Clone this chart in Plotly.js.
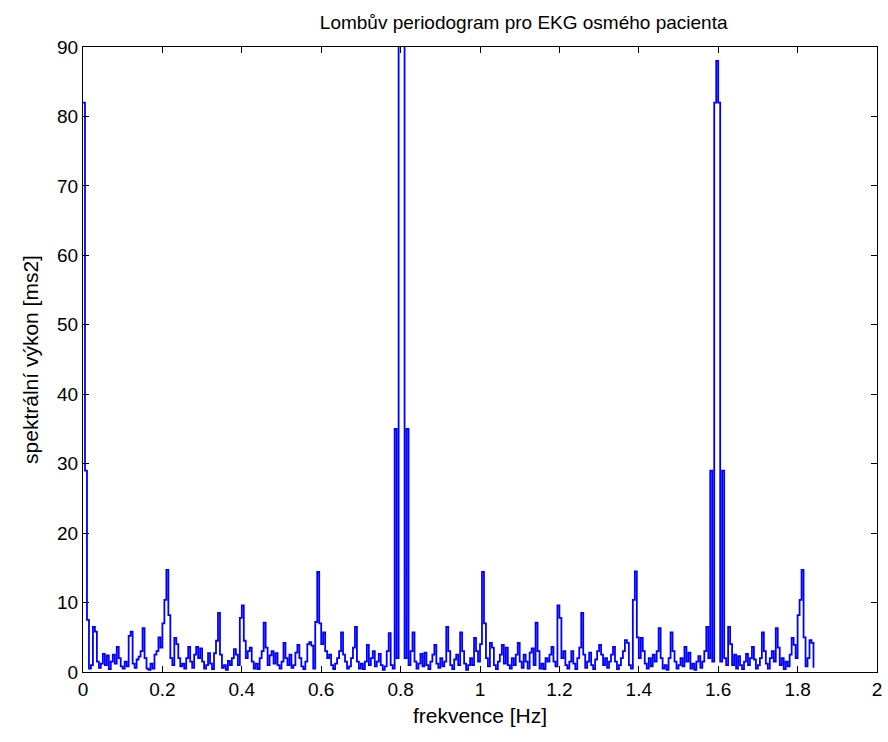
<!DOCTYPE html>
<html>
<head>
<meta charset="utf-8">
<script src="https://cdn.plot.ly/plotly-3.0.1.min.js"></script>
<style>
  html, body { margin: 0; padding: 0; background: #ffffff; }
  #chart { width: 888px; height: 742px; }
</style>
</head>
<body>
<div id="chart"></div>
<script>
// Frequency grid step [Hz] and spectral power [ms2] (rows of 0.1 Hz)
const freqStep = 0.005;
const power = [
  // 0.00 - 0.095
  82, 29, 7.5, 0.5, 1, 6.5, 5.8, 1.5, 0.6, 1.2, 2.6, 1.0, 2.4, 0.4, 1.5, 2.5, 1.2, 3.6, 2.0, 0.8,
  // 0.10 - 0.195
  0.5, 1.5, 0.8, 5.2, 5.8, 1.2, 0.6, 1.8, 2.2, 3.0, 6.3, 2.0, 0.5, 0.3, 1.2, 0.5, 2.5, 3.0, 5.0, 3.5,
  // 0.20 - 0.295
  7.0, 10.4, 14.7, 8.2, 2.0, 1.0, 4.9, 4.0, 2.0, 0.8, 1.2, 0.5, 2.0, 3.6, 1.5, 0.6, 2.5, 3.6, 2.0, 3.4,
  // 0.30 - 0.395
  1.5, 0.5, 1.0, 2.7, 1.2, 0.4, 2.7, 4.5, 8.5, 2.5, 0.6, 1.0, 0.3, 1.6, 1.0, 2.0, 3.3, 2.5, 1.0, 7.8,
  // 0.40 - 0.495
  9.6, 4.5, 2.0, 3.0, 3.5, 1.5, 0.5, 1.2, 0.4, 2.0, 3.0, 7.1, 3.5, 1.0, 2.4, 3.0, 1.2, 2.7, 1.0, 0.5,
  // 0.50 - 0.595
  1.5, 4.2, 2.0, 1.0, 2.5, 0.6, 1.0, 2.8, 3.9, 2.0, 0.8, 0.4, 1.5, 4.0, 4.3, 3.8, 0.5, 7.2, 14.4, 7.0,
  // 0.60 - 0.695
  4.0, 5.7, 3.0, 2.0, 2.5, 1.0, 0.4, 1.2, 2.0, 3.0, 5.7, 2.5, 1.5, 0.5, 0.8, 2.0, 3.5, 6.5, 1.5, 0.5,
  // 0.70 - 0.795
  1.2, 0.4, 1.5, 3.9, 1.0, 2.0, 3.0, 0.8, 1.5, 2.6, 1.0, 0.3, 0.8, 3.0, 5.6, 1.0, 0.5, 35, 2.0, 300,
  // 0.80 - 0.895
  400, 250, 2.0, 35, 1.0, 3.0, 5.7, 1.5, 0.5, 1.2, 2.6, 0.8, 2.8, 1.0, 0.4, 1.5, 2.5, 3.9, 1.2, 0.6,
  // 0.90 - 0.995
  2.0, 0.8, 1.5, 6.5, 3.0, 1.0, 0.4, 1.8, 2.5, 1.0, 5.7, 3.0, 1.2, 0.3, 1.0, 2.0, 1.0, 4.9, 3.0, 1.5,
  // 1.00 - 1.095
  4.0, 14.4, 7.0, 2.0, 0.8, 4.2, 3.5, 1.0, 0.4, 1.5, 2.5, 3.9, 1.2, 3.5, 1.0, 0.5, 2.0, 1.0, 2.5, 4.2,
  // 1.10 - 1.195
  1.5, 0.6, 2.5, 1.5, 0.5, 2.8, 3.4, 1.0, 7.1, 3.0, 0.5, 1.2, 0.4, 2.0, 1.5, 2.5, 3.6, 1.5, 0.8, 9.6,
  // 1.20 - 1.295
  7.8, 2.0, 3.0, 1.0, 0.5, 1.5, 3.0, 1.2, 0.4, 2.0, 3.5, 8.5, 2.5, 0.6, 1.5, 2.8, 1.0, 0.4, 1.8, 3.0,
  // 1.30 - 1.395
  3.9, 2.5, 1.0, 2.0, 0.6, 1.5, 2.5, 3.6, 1.5, 0.4, 1.0, 2.0, 3.0, 4.6, 4.2, 1.0, 0.5, 10.4, 14.5, 5.0,
  // 1.40 - 1.495
  2.0, 4.9, 3.0, 1.2, 0.5, 2.0, 0.8, 2.5, 1.5, 3.0, 6.3, 2.0, 0.5, 1.0, 0.3, 2.0, 5.7, 3.0, 1.5, 0.5,
  // 1.50 - 1.595
  1.0, 2.0, 0.8, 3.6, 1.5, 2.8, 0.5, 1.2, 0.3, 1.5, 2.3, 0.6, 1.5, 3.0, 6.5, 2.0, 29, 1.5, 82, 88,
  // 1.60 - 1.695
  82, 1.5, 29, 2.0, 1.0, 6.5, 4.0, 1.0, 2.5, 0.5, 2.3, 1.0, 0.4, 1.5, 2.6, 1.0, 2.0, 3.6, 1.8, 0.5,
  // 1.70 - 1.795
  1.0, 2.0, 5.7, 3.0, 1.2, 0.5, 2.0, 3.0, 1.5, 6.3, 3.5, 1.0, 2.0, 0.4, 1.5, 0.8, 2.5, 4.9, 3.9, 2.0,
  // 1.80 - 1.84
  8.2, 10.4, 14.7, 5.0, 0.8, 2.0, 4.6, 4.2, 0.6
];
const freq = power.map((_, i) => +(i * freqStep).toFixed(4));

const xTicks = [0, 0.2, 0.4, 0.6, 0.8, 1, 1.2, 1.4, 1.6, 1.8, 2];
const xTickText = ['0', '0.2', '0.4', '0.6', '0.8', '1', '1.2', '1.4', '1.6', '1.8', '2'];
const yTicks = [0, 10, 20, 30, 40, 50, 60, 70, 80, 90];

const titleText = 'Lombův periodogram pro EKG osmého pacienta';
const xTitle = 'frekvence [Hz]';
const yTitle = 'spektrální výkon [ms2]';

const fontFam = 'Liberation Sans, Arial, sans-serif';

const trace = {
  x: freq,
  y: power,
  type: 'scatter',
  mode: 'lines',
  line: { color: '#0000ff', width: 1.8, shape: 'hv' },
  hoverinfo: 'x+y'
};

const axisCommon = {
  showline: true,
  linecolor: '#000000',
  linewidth: 1,
  mirror: 'ticks',
  ticks: 'inside',
  ticklen: 6,
  tickwidth: 1,
  tickcolor: '#000000',
  showgrid: false,
  zeroline: false,
  tickfont: { family: fontFam, size: 19, color: '#000000' }
};

const layout = {
  width: 888,
  height: 742,
  paper_bgcolor: '#ffffff',
  plot_bgcolor: '#ffffff',
  margin: { l: 83, r: 11, t: 47, b: 70 },
  showlegend: false,
  title: {
    text: titleText,
    font: { family: fontFam, size: 19, color: '#000000' },
    xref: 'paper', x: 0.555, xanchor: 'center',
    yref: 'container', y: 0.97, yanchor: 'middle'
  },
  xaxis: Object.assign({}, axisCommon, {
    range: [0, 2],
    tickvals: xTicks,
    ticktext: xTickText,
    title: { text: xTitle, font: { family: fontFam, size: 21, color: '#000000' }, standoff: 9 }
  }),
  yaxis: Object.assign({}, axisCommon, {
    range: [0, 90],
    tickvals: yTicks,
    title: { text: yTitle, font: { family: fontFam, size: 21, color: '#000000' }, standoff: 12 }
  })
};

Plotly.newPlot('chart', [trace], layout, { displayModeBar: false, staticPlot: true });
</script>
</body>
</html>
